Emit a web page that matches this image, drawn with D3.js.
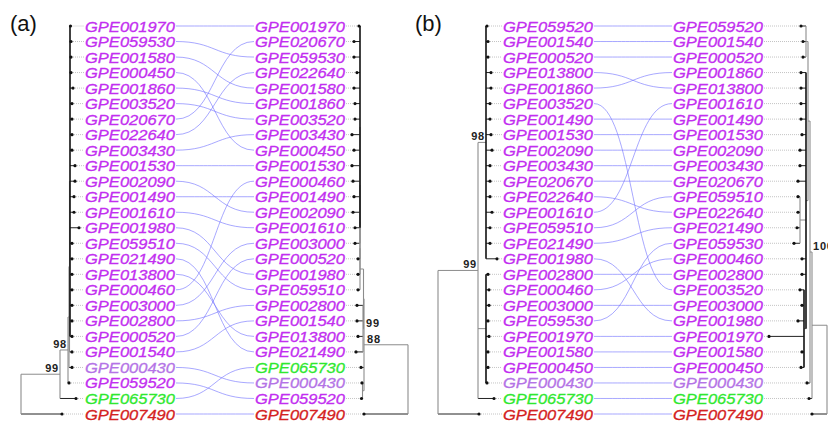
<!DOCTYPE html>
<html>
<head>
<meta charset="utf-8">
<script src="https://cdn.jsdelivr.net/npm/d3@7"></script>
<style>
  body { margin: 0; background: #fff; }
  svg { display: block; font-family: "Liberation Sans", Arial, sans-serif; }
</style>
</head>
<body>
<div id="chart"></div>
<script>
// tip orders, top to bottom
var leftA = ["GPE001970","GPE059530","GPE001580","GPE000450","GPE001860","GPE003520","GPE020670","GPE022640","GPE003430","GPE001530","GPE002090","GPE001490","GPE001610","GPE001980","GPE059510","GPE021490","GPE013800","GPE000460","GPE003000","GPE002800","GPE000520","GPE001540","GPE000430","GPE059520","GPE065730","GPE007490"];
var rightA = ["GPE001970","GPE020670","GPE059530","GPE022640","GPE001580","GPE001860","GPE003520","GPE003430","GPE000450","GPE001530","GPE000460","GPE001490","GPE002090","GPE001610","GPE003000","GPE000520","GPE001980","GPE059510","GPE002800","GPE001540","GPE013800","GPE021490","GPE065730","GPE000430","GPE059520","GPE007490"];
var leftB = ["GPE059520","GPE001540","GPE000520","GPE013800","GPE001860","GPE003520","GPE001490","GPE001530","GPE002090","GPE003430","GPE020670","GPE022640","GPE001610","GPE059510","GPE021490","GPE001980","GPE002800","GPE000460","GPE003000","GPE059530","GPE001970","GPE001580","GPE000450","GPE000430","GPE065730","GPE007490"];
var rightB = ["GPE059520","GPE001540","GPE000520","GPE001860","GPE013800","GPE001610","GPE001490","GPE001530","GPE002090","GPE003430","GPE020670","GPE059510","GPE022640","GPE021490","GPE059530","GPE000460","GPE002800","GPE003520","GPE003000","GPE001980","GPE001970","GPE001580","GPE000450","GPE000430","GPE065730","GPE007490"];

// trees (newick, branch lengths, bootstrap as node label)
var treeLeftA = "((((((GPE001970:0.5,GPE059530:1,GPE001580:1,GPE000450:1,GPE001860:3,GPE003520:2,GPE020670:2,GPE022640:2,GPE003430:2,GPE001530:5,GPE002090:5,GPE001490:4,GPE001610:4,GPE001980:9,GPE059510:2,GPE021490:2,GPE013800:2,GPE000460:2,GPE003000:2,GPE002800:2,GPE000520:2):0.5,GPE001540:2.5):0.5,GPE000430:3):1,GPE059520:1)98:8,GPE065730:16)99:39,GPE007490:41)";
var treeRightA = "((((((((((GPE001970:1,GPE020670:6,GPE059530:6,GPE022640:3,GPE001580:6,GPE001860:5,GPE003520:5,GPE003430:8,GPE000450:6,GPE001530:8,GPE000460:7,GPE001490:6,GPE002090:7,GPE001610:5):0,GPE003000:5):0,GPE000520:2):0,GPE001980:2):0,GPE059510:2):3.5,(GPE002800:6,GPE001540:6,GPE013800:5,GPE021490:7)99:0.5):0.5,GPE065730:3,(GPE000430:0.5,GPE059520:1):1.5)88:44,GPE007490:44)";
var treeLeftB = "(((GPE059520:1,GPE001540:2,GPE000520:2,GPE013800:5,GPE001860:5,GPE003520:4,GPE001490:4,GPE001530:5,GPE002090:6,GPE003430:4,GPE020670:4,GPE022640:4,GPE001610:6,GPE059510:4,GPE021490:4,GPE001980:11)98:8,(GPE002800:2,GPE000460:3,GPE003000:3,GPE059530:2,GPE001970:3,GPE001580:2,GPE000450:2,GPE000430:1):8,GPE065730:16)99:40,GPE007490:41)";
var treeRightB = "(((((GPE059520:5,GPE001540:3,GPE000520:3):2,(GPE001860:5,GPE013800:5,GPE001610:5,GPE001490:5,GPE001530:4,GPE002090:6,GPE003430:6,GPE020670:8,(GPE059510:2,GPE022640:2,GPE021490:3,GPE059530:6):6,GPE000460:4,GPE002800:4,(GPE003520:4,GPE003000:2,GPE001980:6,GPE001970:35,GPE001580:2,GPE000450:3):2):2):2,GPE000430:3)100:2,GPE065730:3):15,GPE007490:15)";

var panelTitles = ["(a)", "(b)"];

var nameColor = {"GPE065730": "#2fe82f", "GPE007490": "#d42121", "GPE000430": "#b473e6"};
var defaultColor = "#c22ef0";

var svgWidth = 828, svgHeight = 421;

var svg = d3.select("#chart").append("svg")
    .attr("width", svgWidth)
    .attr("height", svgHeight);

svg.append("rect").attr("width", svgWidth).attr("height", svgHeight).attr("fill", "#fff");

// rows
var rowY = d3.scaleLinear().domain([0, 25]).range([26, 414]);
var labelW = 90;

function parseNewick(s) {
    var i = 0;
    function node() {
        var n = {};
        if (s[i] === "(") {
            i++;
            n.children = [node()];
            while (s[i] === ",") { i++; n.children.push(node()); }
            i++;
        }
        var m = s.slice(i).match(/^[^:,();]*/)[0];
        i += m.length;
        n.name = m;
        n.length = 0;
        if (s[i] === ":") {
            i++;
            var l = s.slice(i).match(/^[0-9.]+/)[0];
            i += l.length;
            n.length = +l;
        }
        return n;
    }
    return node();
}

var panels = [
    {names: leftA, tree: treeLeftA, x: d3.scaleLinear().domain([0, 60]).range([21, 81]), side: "left", labelX: 85},
    {names: rightA, tree: treeRightA, x: d3.scaleLinear().domain([0, 60]).range([408, 348]), side: "right", labelX: 255},
    {names: leftB, tree: treeLeftB, x: d3.scaleLinear().domain([0, 60]).range([438, 498]), side: "left", labelX: 503},
    {names: rightB, tree: treeRightB, x: d3.scaleLinear().domain([0, 60]).range([827, 767]), side: "right", labelX: 673}
];

// connecting lines first so labels sit on top
function drawLinks(lNames, rNames, x1, x2) {
    var g = svg.append("g");
    var link = d3.linkHorizontal();
    lNames.forEach(function(n, i) {
        var j = rNames.indexOf(n);
        g.append("path")
            .attr("d", link({source: [x1, rowY(i)], target: [x2, rowY(j)]}))
            .attr("fill", "none")
            .attr("stroke", "#7272ff")
            .attr("stroke-opacity", 0.62)
            .attr("stroke-width", 1);
    });
}
drawLinks(leftA, rightA, panels[0].labelX + labelW + 1, panels[1].labelX - 1);
drawLinks(leftB, rightB, panels[2].labelX + labelW + 1, panels[3].labelX - 1);

panels.forEach(function(p) {
    var root = d3.hierarchy(parseNewick(p.tree));
    root.eachBefore(function(d) {
        d.dist = (d.parent ? d.parent.dist : 0) + (d.parent ? d.data.length : 0);
        d.px = p.x(d.dist);
    });
    root.eachAfter(function(d) {
        if (d.children) d.py = (d.children[0].py + d.children[d.children.length - 1].py) / 2;
        else d.py = rowY(p.names.indexOf(d.data.name));
    });

    var g = svg.append("g");
    var grey = "#8c8c8c";

    // leader lines
    root.leaves().forEach(function(d) {
        var xa = p.side === "left" ? d.px : p.labelX + labelW + 1;
        var xb = p.side === "left" ? p.labelX - 1 : d.px;
        g.append("line")
            .attr("x1", xa).attr("x2", xb)
            .attr("y1", d.py).attr("y2", d.py)
            .attr("stroke", "#c4c4c4")
            .attr("stroke-width", 1)
            .attr("stroke-dasharray", "1,1");
    });

    // horizontal branches
    root.descendants().forEach(function(d) {
        if (!d.parent) return;
        g.append("line")
            .attr("x1", d.parent.px).attr("x2", d.px)
            .attr("y1", d.py).attr("y2", d.py)
            .attr("stroke", d.children ? grey : "#222")
            .attr("stroke-width", 1);
    });

    // vertical branches
    root.descendants().forEach(function(d) {
        if (!d.children) return;
        var big = d.children.length >= 5;
        g.append("line")
            .attr("x1", d.px).attr("x2", d.px)
            .attr("y1", d.children[0].py)
            .attr("y2", d.children[d.children.length - 1].py)
            .attr("stroke", big ? "#111" : grey)
            .attr("stroke-width", big ? 1.6 : 1.1);
    });

    // tips
    g.selectAll(".tip")
        .data(root.leaves())
        .enter()
        .append("circle")
        .attr("cx", function(d) { return d.px; })
        .attr("cy", function(d) { return d.py; })
        .attr("r", 1.6)
        .attr("fill", "#111");

    // bootstrap values
    root.descendants().filter(function(d) { return d.children && d.data.name; }).forEach(function(d) {
        g.append("text")
            .attr("x", p.side === "left" ? d.px - 1 : d.px + 3)
            .attr("y", d.py - 2)
            .attr("text-anchor", p.side === "left" ? "end" : "start")
            .attr("font-size", 11)
            .attr("font-weight", "bold")
            .attr("letter-spacing", 0.8)
            .attr("fill", "#222")
            .text(d.data.name);
    });

    // tip labels
    g.selectAll(".lab")
        .data(p.names)
        .enter()
        .append("text")
        .attr("x", p.labelX)
        .attr("y", function(d, i) { return rowY(i); })
        .attr("dominant-baseline", "central")
        .attr("font-size", 15.5)
        .attr("font-style", "italic")
        .attr("textLength", labelW)
        .attr("lengthAdjust", "spacingAndGlyphs")
        .attr("fill", function(d) { return nameColor[d] || defaultColor; })
        .attr("stroke", function(d) { return nameColor[d] || defaultColor; })
        .attr("stroke-width", 0.3)
        .text(function(d) { return d; });
});

// panel letters
svg.selectAll(".title")
    .data(panelTitles)
    .enter()
    .append("text")
    .attr("x", function(d, i) { return i === 0 ? 10 : 415; })
    .attr("y", 31)
    .attr("font-size", 22)
    .attr("fill", "#111")
    .text(function(d) { return d; });
</script>
</body>
</html>
